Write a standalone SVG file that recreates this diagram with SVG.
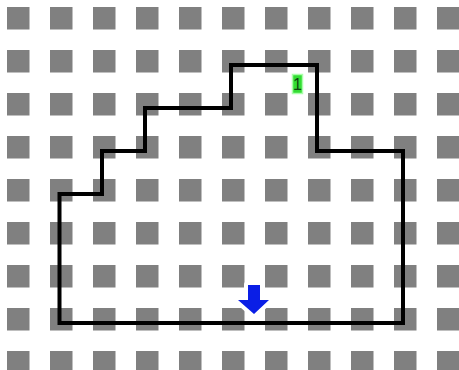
<svg xmlns="http://www.w3.org/2000/svg" width="459" height="370" viewBox="0 0 459 370">
<defs>
<style>
.sq{fill:#808080}
.route{fill:none;stroke:#000;stroke-width:4;stroke-linejoin:miter}
.lbl{font-family:"Liberation Sans",Arial,sans-serif;font-size:16px;fill:#114411}
</style>
<pattern id="grid" x="7" y="7" width="43" height="43" patternUnits="userSpaceOnUse">
<rect class="sq" x="0" y="0" width="22.5" height="22.5"/>
</pattern>
</defs>
<rect width="459" height="370" fill="#ffffff"/>
<rect id="grid-bg" width="459" height="370" fill="url(#grid)"/>
<g id="connectors">
<path class="route" d="M59.5,323 V194 H102 V151 H145 V108 H231 V65 H317 V151 H403 V323 Z"/>
</g>
<g id="label-1">
<rect x="292.5" y="74.5" width="10" height="19" fill="#33dd33" stroke="#aaffaa" stroke-width="1.5"/>
<text class="lbl" x="297.5" y="90" text-anchor="middle">1</text>
</g>
<g id="arrow">
<path d="M248,285 H260 V300 H269 L254,314 L238,300 H248 Z" fill="#ffffff" stroke="#ffffff" stroke-width="8" stroke-linejoin="round"/>
<path d="M248,285 H260 V300 H269 L254,314 L238,300 H248 Z" fill="#0a1ee6"/>
</g>
</svg>
